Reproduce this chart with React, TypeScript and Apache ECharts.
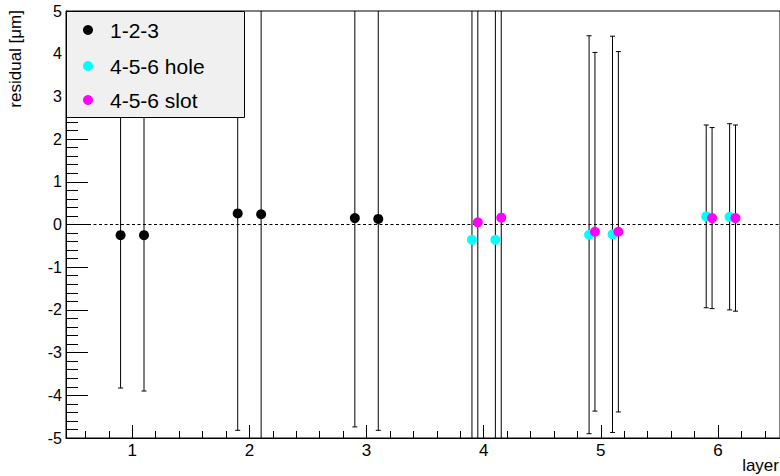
import React, { useEffect, useRef } from "react";
import * as echarts from "echarts";

// ---- data ----
const seriesNames = ["1-2-3", "4-5-6 hole", "4-5-6 slot"];
const seriesColors = ["#000000", "#00ffff", "#ff00ff"];

const x123 = [0.9, 1.1, 1.9, 2.1, 2.9, 3.1];
const y123 = [-0.25, -0.25, 0.26, 0.24, 0.15, 0.13];
const e123 = [3.58, 3.65, 5.08, 5.6, 4.89, 4.95];

const xHole = [3.9, 4.1, 4.9, 5.1, 5.9, 6.1];
const yHole = [-0.36, -0.36, -0.24, -0.23, 0.19, 0.18];
const eHole = [8.0, 8.0, 4.66, 4.64, 2.14, 2.18];

const xSlot = [3.95, 4.15, 4.95, 5.15, 5.95, 6.15];
const ySlot = [0.05, 0.16, -0.17, -0.17, 0.15, 0.15];
const eSlot = [8.0, 8.0, 4.2, 4.22, 2.12, 2.18];

const xTickLabels = [1, 2, 3, 4, 5, 6];
const xMinorTicks = [
  0.6, 0.8, 1.2, 1.4, 1.6, 1.8, 2.2, 2.4, 2.6, 2.8, 3.2, 3.4, 3.6, 3.8,
  4.2, 4.4, 4.6, 4.8, 5.2, 5.4, 5.6, 5.8, 6.2, 6.4,
];
const yTickMin = -5;
const yTickMax = 5;

const xTitle = "layer";
const yTitle = "residual [μm]";

const FONT = "Liberation Sans, Arial, Helvetica, sans-serif";
const X_MIN = 0.434;
const X_MAX = 6.53;

function zip3(xs: number[], ys: number[], es: number[]) {
  return xs.map((x, i) => [x, ys[i], es[i]]);
}

const groups = [
  zip3(x123, y123, e123),
  zip3(xHole, yHole, eHole),
  zip3(xSlot, ySlot, eSlot),
];

function errorRender(params: any, api: any) {
  const x = api.value(0);
  const y = api.value(1);
  const e = api.value(2);
  const top = api.coord([x, y + e]);
  const bot = api.coord([x, y - e]);
  const cap = 2.5;
  const style = { stroke: "#000", lineWidth: 1 };
  return {
    type: "group",
    children: [
      { type: "line", shape: { x1: top[0], y1: top[1], x2: bot[0], y2: bot[1] }, style },
      { type: "line", shape: { x1: top[0] - cap, y1: top[1], x2: top[0] + cap, y2: top[1] }, style },
      { type: "line", shape: { x1: bot[0] - cap, y1: bot[1], x2: bot[0] + cap, y2: bot[1] }, style },
    ],
  };
}

export default function App() {
  const ref = useRef<HTMLDivElement>(null);
  useEffect(() => {
    if (!ref.current) return;
    const chart = echarts.init(ref.current, null, { renderer: "svg" });
    const series: any[] = [];
    groups.forEach((g, i) => {
      series.push({
        type: "custom",
        name: seriesNames[i] + " err",
        renderItem: errorRender,
        data: g,
        encode: { x: 0, y: 1 },
        clip: true,
        z: 1,
        silent: true,
      });
    });
    groups.forEach((g, i) => {
      series.push({
        type: "scatter",
        name: seriesNames[i],
        data: g.map((d) => [d[0], d[1]]),
        symbol: "circle",
        symbolSize: 10,
        itemStyle: { color: seriesColors[i], opacity: 1 },
        clip: true,
        z: 3,
        ...(i === 0
          ? {
              markLine: {
                silent: true,
                symbol: "none",
                label: { show: false },
                lineStyle: { color: "#000", width: 1, type: [3, 2.5] },
                data: [{ yAxis: 0 }],
                z: 2,
              },
            }
          : {}),
      });
    });

    const legendEls: any[] = [
      {
        type: "rect",
        shape: { x: 66.5, y: 11.5, width: 178, height: 106 },
        style: { fill: "#f0f0f0", stroke: "#000", lineWidth: 1 },
        z: 100,
      },
    ];
    const rowsY = [30, 66, 100];
    seriesNames.forEach((n, i) => {
      legendEls.push({
        type: "circle",
        shape: { cx: 88, cy: rowsY[i], r: 5 },
        style: { fill: seriesColors[i] },
        z: 101,
      });
      legendEls.push({
        type: "text",
        x: 110,
        y: rowsY[i],
        style: {
          text: n,
          font: `21px ${FONT}`,
          fill: "#000",
          align: "left",
          verticalAlign: "middle",
        },
        z: 101,
      });
    });

    chart.setOption({
      animation: false,
      backgroundColor: "#ffffff",
      textStyle: { fontFamily: FONT },
      grid: {
        left: 66,
        right: -1,
        top: 11,
        bottom: 38,
        show: true,
        borderColor: "#000",
        borderWidth: 1,
        backgroundColor: "transparent",
      },
      xAxis: [
        {
          type: "value",
          min: X_MIN,
          max: X_MAX,
          position: "bottom",
          axisLine: { show: true, onZero: false, lineStyle: { color: "#000", width: 1 } },
          axisTick: {
            show: true,
            inside: true,
            length: 13,
            lineStyle: { color: "#000" },
            customValues: xTickLabels,
          },
          axisLabel: {
            show: true,
            color: "#000",
            fontSize: 17,
            fontFamily: FONT,
            margin: 4,
            customValues: xTickLabels,
          },
          splitLine: { show: false },
        },
        {
          type: "value",
          min: X_MIN,
          max: X_MAX,
          position: "bottom",
          offset: 0,
          axisLine: { show: false, onZero: false },
          axisTick: {
            show: true,
            inside: true,
            length: 7,
            lineStyle: { color: "#000" },
            customValues: xMinorTicks,
          },
          axisLabel: { show: false },
          splitLine: { show: false },
        },
      ],
      yAxis: {
        type: "value",
        min: yTickMin,
        max: yTickMax,
        interval: 1,
        axisLine: { show: true, onZero: false, lineStyle: { color: "#000", width: 1 } },
        axisTick: { show: true, inside: true, length: 22, lineStyle: { color: "#000" } },
        minorTick: { show: true, splitNumber: 5, length: 12, lineStyle: { color: "#000" } },
        axisLabel: { color: "#000", fontSize: 16, fontFamily: FONT, margin: 4 },
        splitLine: { show: false },
        minorSplitLine: { show: false },
      },
      graphic: [
        {
          type: "text",
          x: 15,
          y: 10,
          rotation: Math.PI / 2,
          style: {
            text: yTitle,
            font: `17px ${FONT}`,
            fill: "#000",
            align: "right",
            verticalAlign: "middle",
          },
        },
        {
          type: "text",
          x: 779,
          y: 465,
          style: {
            text: xTitle,
            font: `17px ${FONT}`,
            fill: "#000",
            align: "right",
            verticalAlign: "middle",
          },
        },
        ...legendEls,
      ],
      series,
    });
    return () => chart.dispose();
  }, []);
  return (
    <div
      ref={ref}
      style={{ position: "fixed", left: 0, top: 0, width: 780, height: 476 }}
    />
  );
}
